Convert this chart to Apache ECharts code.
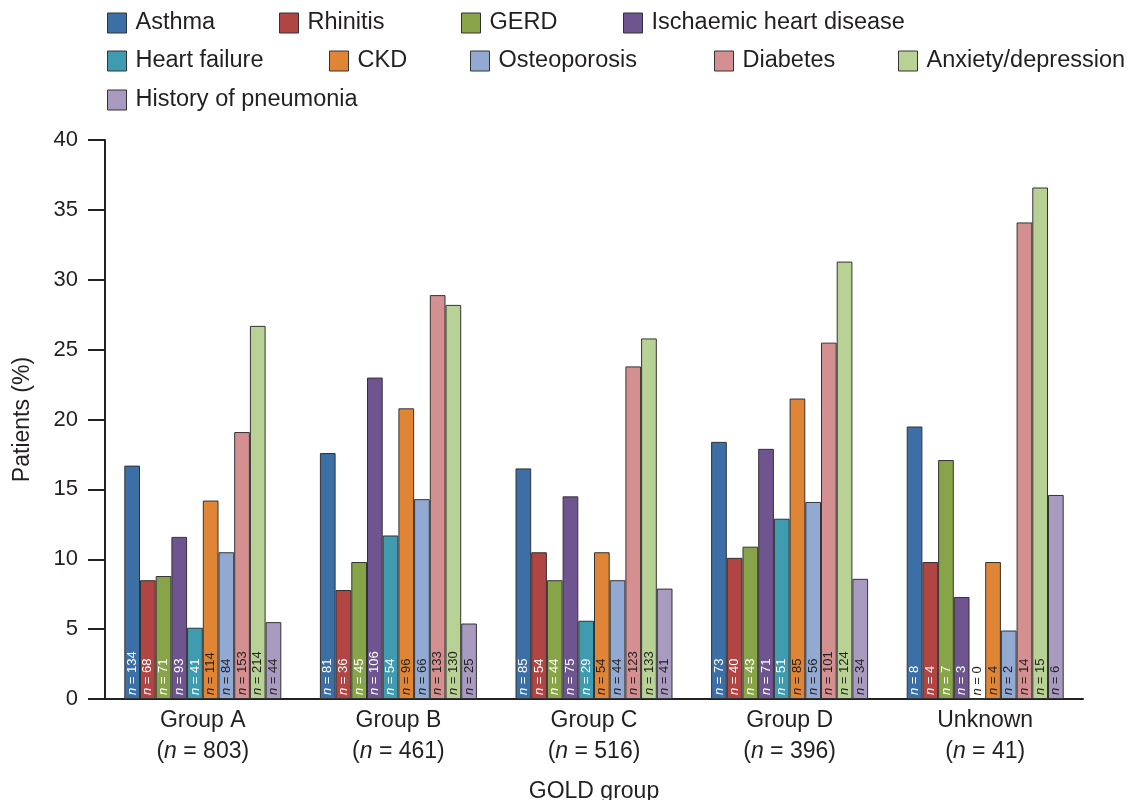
<!DOCTYPE html>
<html>
<head>
<meta charset="utf-8">
<script src="https://cdn.jsdelivr.net/npm/echarts@6/dist/echarts.min.js"></script>
<style>html,body{margin:0;padding:0;background:#fff}#c{width:1134px;height:800px}</style>
</head>
<body>
<div id="c"></div>
<script>
// Categories (GOLD groups) and group sizes
const groups = ['Group A', 'Group B', 'Group C', 'Group D', 'Unknown'];
const groupN = [803, 461, 516, 396, 41];
const seriesNames = ['Asthma', 'Rhinitis', 'GERD', 'Ischaemic heart disease', 'Heart failure', 'CKD', 'Osteoporosis', 'Diabetes', 'Anxiety/depression', 'History of pneumonia'];
const colors = ['#3c6fa6', '#b04543', '#88a448', '#6f5590', '#3f9bb0', '#e08535', '#92aad2', '#d49090', '#b8d296', '#a99bc0'];
// Percent of patients
const asthma    = [16.7, 17.6, 16.5, 18.4, 19.5];
const rhinitis  = [8.5, 7.8, 10.5, 10.1, 9.8];
const gerd      = [8.8, 9.8, 8.5, 10.9, 17.1];
const ihd       = [11.6, 23.0, 14.5, 17.9, 7.3];
const hf        = [5.1, 11.7, 5.6, 12.9, 0];
const ckd       = [14.2, 20.8, 10.5, 21.5, 9.8];
const osteo     = [10.5, 14.3, 8.5, 14.1, 4.9];
const diabetes  = [19.1, 28.9, 23.8, 25.5, 34.1];
const anxiety   = [26.7, 28.2, 25.8, 31.3, 36.6];
const pneumonia = [5.5, 5.4, 7.9, 8.6, 14.6];
// Patient counts shown in bars
const nAsthma    = [134, 81, 85, 73, 8];
const nRhinitis  = [68, 36, 54, 40, 4];
const nGerd      = [71, 45, 44, 43, 7];
const nIhd       = [93, 106, 75, 71, 3];
const nHf        = [41, 54, 29, 51, 0];
const nCkd       = [114, 96, 54, 85, 4];
const nOsteo     = [84, 66, 44, 56, 2];
const nDiabetes  = [153, 133, 123, 101, 14];
const nAnxiety   = [214, 130, 133, 124, 15];
const nPneumonia = [44, 25, 41, 34, 6];
// Y axis ticks
const yTicks = [0, 5, 10, 15, 20, 25, 30, 35, 40];

const values = [asthma, rhinitis, gerd, ihd, hf, ckd, osteo, diabetes, anxiety, pneumonia];
const counts = [nAsthma, nRhinitis, nGerd, nIhd, nHf, nCkd, nOsteo, nDiabetes, nAnxiety, nPneumonia];
const lightLabel = [true, true, true, true, true, false, false, false, false, false];

const FONT = "'Liberation Sans', Arial, Helvetica, sans-serif";
const TXT = '#231f20';

const legendPos = [
  [107, 11], [279, 11], [461, 11], [623, 11],
  [107, 49], [329, 49], [470, 49], [714, 49], [898, 49],
  [107, 88]
];

const legends = seriesNames.map((name, i) => ({
  data: [name],
  left: legendPos[i][0],
  top: legendPos[i][1],
  padding: 0,
  icon: 'rect',
  itemWidth: 19,
  itemHeight: 20,
  selectedMode: false,
  itemStyle: { borderColor: '#333', borderWidth: 1 },
  textStyle: { fontFamily: FONT, fontSize: 23.5, color: TXT, lineHeight: 24, padding: [0, 0, 0, 4] }
}));

const series = seriesNames.map((name, i) => ({
  name: name,
  type: 'bar',
  barWidth: 15.7,
  barGap: '0%',
  itemStyle: { color: colors[i], borderColor: '#333', borderWidth: 1 },
  data: values[i].map((v, j) => {
    const d = { value: v, n: counts[i][j] };
    if (v === 0) d.label = { color: TXT };
    return d;
  }),
  label: {
    show: true,
    position: 'insideBottom',
    distance: 4,
    rotate: 90,
    align: 'left',
    verticalAlign: 'middle',
    fontFamily: FONT,
    fontSize: 13,
    color: lightLabel[i] ? '#ffffff' : TXT,
    formatter: p => '{i|n} = ' + p.data.n,
    rich: { i: { fontStyle: 'italic', fontFamily: FONT, fontSize: 13 } }
  },
  emphasis: { disabled: true }
}));

const chart = echarts.init(document.getElementById('c'), null, { renderer: 'canvas' });
chart.setOption({
  animation: false,
  backgroundColor: '#fff',
  legend: legends,
  grid: { left: 105, right: 51, top: 140, bottom: 101, containLabel: false, outerBoundsMode: 'none' },
  xAxis: {
    type: 'category',
    data: groups,
    name: 'GOLD group',
    nameLocation: 'middle',
    nameGap: 81,
    nameTextStyle: { fontFamily: FONT, fontSize: 23, color: TXT },
    axisLine: { show: true, lineStyle: { color: '#222', width: 2 } },
    axisTick: { show: false },
    axisLabel: {
      interval: 0,
      margin: 6,
      fontFamily: FONT,
      fontSize: 23,
      color: TXT,
      lineHeight: 31,
      formatter: (v, idx) => '{g|' + v + '}\n{g|(}{i|n}{g| = ' + groupN[idx] + ')}',
      rich: {
        g: { fontFamily: FONT, fontSize: 23, color: TXT, lineHeight: 31 },
        i: { fontFamily: FONT, fontSize: 23, color: TXT, fontStyle: 'italic', lineHeight: 31 }
      }
    }
  },
  yAxis: {
    type: 'value',
    min: yTicks[0],
    max: yTicks[yTicks.length - 1],
    interval: 5,
    name: 'Patients (%)',
    nameLocation: 'middle',
    nameGap: 71,
    nameTextStyle: { fontFamily: FONT, fontSize: 23, color: TXT },
    axisLine: { show: true, lineStyle: { color: '#222', width: 2 } },
    axisTick: { show: true, inside: false, length: 17, lineStyle: { color: '#222', width: 2 } },
    axisLabel: { margin: 27, fontFamily: FONT, fontSize: 22, color: TXT },
    splitLine: { show: false }
  },
  series: series
});
</script>
</body>
</html>
